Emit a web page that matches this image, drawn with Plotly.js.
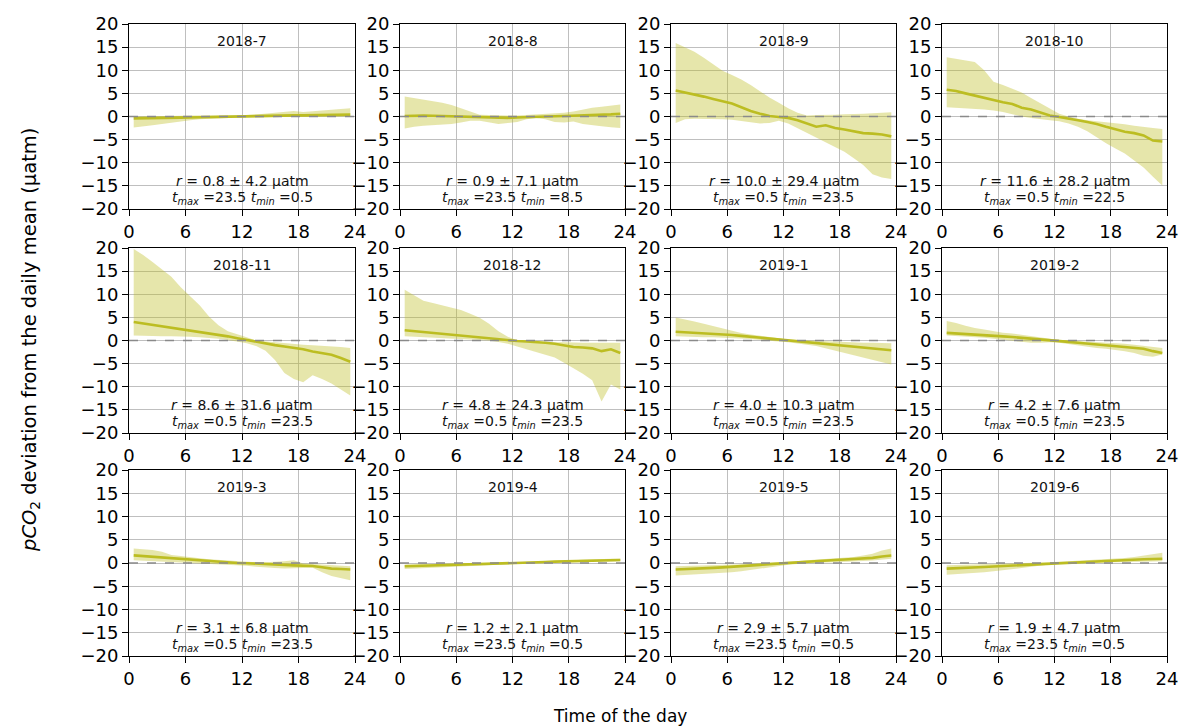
<!DOCTYPE html>
<html>
<head>
<meta charset="utf-8">
<script src="https://cdn.plot.ly/plotly-3.0.1.min.js"></script>
<style>html,body{margin:0;padding:0;background:#fff;}#chart{width:1181px;height:728px;}</style>
</head>
<body>
<div id="chart"></div>
<script>
// ---------- data ----------
const hours = [0.5,1.5,2.5,3.5,4.5,5.5,6.5,7.5,8.5,9.5,10.5,11.5,12.5,13.5,14.5,15.5,16.5,17.5,18.5,19.5,20.5,21.5,22.5,23.5];
const months = ["2018-7","2018-8","2018-9","2018-10","2018-11","2018-12","2019-1","2019-2","2019-3","2019-4","2019-5","2019-6"];
const rStats = ["0.8 ± 4.2","0.9 ± 7.1","10.0 ± 29.4","11.6 ± 28.2","8.6 ± 31.6","4.8 ± 24.3","4.0 ± 10.3","4.2 ± 7.6","3.1 ± 6.8","1.2 ± 2.1","2.9 ± 5.7","1.9 ± 4.7"];
const tMax = ["23.5","23.5","0.5","0.5","0.5","0.5","0.5","0.5","0.5","23.5","23.5","23.5"];
const tMin = ["0.5","8.5","23.5","22.5","23.5","23.5","23.5","23.5","23.5","0.5","0.5","0.5"];

const mean_2018_7 = [-0.4,-0.4,-0.35,-0.3,-0.3,-0.25,-0.2,-0.15,-0.1,-0.1,-0.05,0,0,0.05,0.1,0.15,0.2,0.25,0.25,0.3,0.3,0.35,0.35,0.4];
const hi_2018_7   = [0.0,0.0,0.05,0.1,0.1,0.15,0.2,0.2,0.2,0.25,0.3,0.3,0.35,0.45,0.6,0.8,1.0,1.2,1.0,1.1,1.3,1.45,1.6,1.8];
const lo_2018_7   = [-2.4,-2.2,-1.9,-1.6,-1.3,-1.0,-0.8,-0.6,-0.45,-0.35,-0.3,-0.25,-0.2,-0.15,-0.1,-0.05,-0.05,0.0,-0.05,0.0,0.0,0.0,0.0,0.0];

const mean_2018_8 = [0.1,0.2,0.2,0.15,0.1,0.05,0.0,-0.1,-0.2,-0.3,-0.3,-0.3,-0.2,-0.1,0.0,0.0,0.05,0.1,0.15,0.2,0.25,0.3,0.45,0.6];
const hi_2018_8   = [4.3,4.0,3.7,3.4,3.0,2.5,1.8,1.0,0.4,0.3,0.2,0.2,0.2,0.3,0.4,0.5,0.6,0.8,1.1,1.5,1.9,2.1,2.3,2.6];
const lo_2018_8   = [-2.6,-2.2,-2.0,-1.9,-1.8,-1.6,-1.3,-0.9,-0.9,-1.3,-1.6,-1.4,-1.2,-0.6,-0.3,-0.6,-1.2,-1.3,-1.1,-1.6,-1.9,-2.1,-2.3,-2.5];

const mean_2018_9 = [5.6,5.2,4.7,4.3,3.8,3.3,2.8,2.0,1.2,0.6,0.1,-0.1,-0.3,-0.8,-1.5,-2.2,-1.9,-2.5,-2.8,-3.2,-3.6,-3.7,-3.9,-4.3];
const hi_2018_9   = [15.9,15.0,14.0,12.7,11.3,9.9,9.0,8.0,6.8,5.4,4.1,3.0,1.8,0.8,0.2,0.3,0.3,0.4,0.5,0.5,0.6,0.7,0.8,0.9];
const lo_2018_9   = [-1.4,-0.6,-0.5,-0.5,-0.5,-0.6,-0.7,-1.0,-1.3,-1.5,-1.4,-0.9,-1.5,-2.5,-3.5,-4.5,-5.5,-6.5,-7.6,-9.0,-10.5,-12.5,-13.2,-13.5];

const mean_2018_10 = [5.8,5.5,5.0,4.5,4.0,3.6,3.1,2.7,1.9,1.5,0.9,0.2,-0.1,-0.4,-0.8,-1.2,-1.6,-2.2,-2.7,-3.3,-3.6,-4.1,-5.2,-5.4];
const hi_2018_10   = [12.8,12.5,12.2,11.8,10.0,7.5,6.8,6.0,5.2,4.0,2.9,1.8,0.6,0.0,-0.5,-0.8,-1.0,-1.2,-1.4,-1.7,-2.0,-2.3,-2.5,-2.7];
const lo_2018_10   = [2.0,1.9,1.8,1.6,1.5,1.3,1.0,0.5,0.0,-0.3,-0.6,-0.8,-1.0,-1.5,-2.2,-3.2,-4.5,-5.8,-6.9,-8.0,-9.5,-11.0,-13.0,-14.9];

const mean_2018_11 = [4.0,3.7,3.4,3.1,2.7,2.4,2.2,1.9,1.5,1.2,0.9,0.5,0.1,-0.3,-0.7,-1.0,-1.3,-1.6,-1.9,-2.4,-2.8,-3.1,-3.8,-4.6];
const hi_2018_11   = [19.8,18.5,17.0,15.5,13.8,11.5,9.6,7.6,5.2,3.3,2.0,1.4,0.7,0.0,-0.2,-0.4,-0.6,-0.8,-0.9,-1.0,-1.1,-1.2,-1.4,-1.6];
const lo_2018_11   = [1.1,1.0,1.0,0.9,0.9,0.9,0.8,0.7,0.6,0.4,0.1,-0.2,-0.6,-1.2,-2.2,-4.2,-7.0,-8.3,-9.0,-7.5,-8.3,-9.3,-10.6,-11.9];

const mean_2018_12 = [2.2,2.0,1.8,1.7,1.5,1.3,1.1,0.9,0.7,0.5,0.3,0.1,-0.1,-0.2,-0.3,-0.5,-0.7,-1.0,-1.4,-1.5,-1.7,-2.3,-1.9,-2.7];
const hi_2018_12   = [11.0,9.8,8.6,8.1,7.6,7.1,6.6,5.8,4.9,3.6,2.0,0.8,0.0,-0.2,-0.3,-0.3,-0.4,-0.4,-0.5,-0.5,-0.5,-0.5,-0.5,-0.5];
const lo_2018_12   = [0.9,0.8,0.7,0.6,0.6,0.5,0.4,0.3,0.2,0.0,-0.3,-0.7,-1.3,-1.9,-2.5,-3.1,-3.7,-4.8,-6.0,-7.2,-8.6,-13.2,-9.5,-10.6];

const mean_2019_1 = [1.9,1.8,1.7,1.6,1.5,1.4,1.2,1.0,0.8,0.6,0.4,0.2,0.0,-0.2,-0.4,-0.6,-0.8,-1.0,-1.2,-1.3,-1.5,-1.7,-1.9,-2.1];
const hi_2019_1   = [5.0,4.6,4.1,3.6,3.1,2.6,2.0,1.6,1.3,1.0,0.8,0.5,0.2,0.1,0.0,-0.1,-0.2,-0.3,-0.4,-0.4,-0.5,-0.5,-0.6,-0.6];
const lo_2019_1   = [0.9,0.8,0.8,0.7,0.7,0.6,0.6,0.4,0.3,0.1,0.0,-0.2,-0.4,-0.6,-0.9,-1.2,-1.7,-2.2,-2.7,-3.2,-3.6,-4.1,-4.6,-5.2];

const mean_2019_2 = [1.65,1.55,1.45,1.35,1.2,1.05,0.9,0.75,0.6,0.45,0.3,0.1,-0.1,-0.3,-0.5,-0.7,-0.9,-1.1,-1.2,-1.35,-1.55,-1.8,-2.3,-2.7];
const hi_2019_2   = [4.2,3.8,3.2,2.7,2.4,2.0,1.7,1.5,1.2,0.9,0.6,0.3,0.1,0.0,-0.1,-0.2,-0.3,-0.4,-0.5,-0.7,-0.9,-1.1,-1.4,-1.6];
const lo_2019_2   = [1.1,1.0,0.9,0.8,0.6,0.4,0.2,0.0,-0.3,-0.5,-0.5,-0.4,-0.5,-0.8,-1.1,-1.4,-1.6,-1.8,-2.0,-2.3,-2.7,-3.3,-3.5,-3.0];

const mean_2019_3 = [1.65,1.5,1.35,1.2,1.0,0.8,0.6,0.45,0.3,0.2,0.1,0.0,-0.05,-0.1,-0.2,-0.3,-0.4,-0.5,-0.55,-0.65,-0.9,-1.2,-1.3,-1.4];
const hi_2019_3   = [3.1,3.0,2.8,2.4,1.7,1.5,1.2,1.0,0.8,0.65,0.5,0.3,0.2,0.15,0.15,0.2,0.4,0.6,-0.1,-0.2,-0.3,-0.5,-0.6,-0.7];
const lo_2019_3   = [0.6,0.5,0.4,0.4,0.3,0.2,0.1,0.0,-0.2,-0.3,-0.4,-0.5,-0.6,-0.8,-1.0,-1.1,-1.2,-1.2,-1.1,-1.0,-2.0,-2.8,-3.3,-3.7];

const mean_2019_4 = [-0.7,-0.65,-0.6,-0.55,-0.5,-0.45,-0.4,-0.35,-0.3,-0.2,-0.1,0.0,0.05,0.1,0.15,0.2,0.3,0.35,0.4,0.45,0.5,0.55,0.6,0.65];
const hi_2019_4   = [-0.3,-0.3,-0.25,-0.2,-0.2,-0.15,-0.1,-0.1,-0.05,0.0,0.05,0.1,0.15,0.2,0.25,0.3,0.4,0.5,0.6,0.7,0.8,0.85,0.9,0.9];
const lo_2019_4   = [-1.3,-1.2,-1.1,-1.0,-0.9,-0.8,-0.7,-0.6,-0.5,-0.4,-0.3,-0.15,-0.05,0.0,0.05,0.1,0.15,0.2,0.25,0.3,0.3,0.35,0.4,0.4];

const mean_2019_5 = [-1.4,-1.35,-1.25,-1.15,-1.05,-0.95,-0.85,-0.7,-0.55,-0.4,-0.25,-0.1,0.05,0.15,0.3,0.45,0.55,0.65,0.75,0.85,0.95,1.1,1.4,1.6];
const hi_2019_5   = [-0.7,-0.65,-0.6,-0.55,-0.5,-0.5,-0.45,-0.35,-0.2,-0.1,0.0,0.1,0.2,0.4,0.6,0.75,0.9,1.0,1.1,1.3,1.6,2.0,2.7,3.1];
const lo_2019_5   = [-2.7,-2.6,-2.5,-2.4,-2.3,-2.2,-2.0,-1.8,-1.5,-1.2,-0.9,-0.6,-0.35,-0.2,-0.05,0.0,0.1,0.15,0.2,0.3,0.45,0.55,0.7,0.9];

const mean_2019_6 = [-1.2,-1.15,-1.05,-0.95,-0.85,-0.75,-0.65,-0.55,-0.45,-0.35,-0.2,-0.1,0.05,0.15,0.25,0.35,0.45,0.5,0.55,0.6,0.7,0.8,0.85,0.9];
const hi_2019_6   = [-0.5,-0.45,-0.45,-0.4,-0.35,-0.3,-0.25,-0.2,-0.1,0.0,0.1,0.15,0.25,0.35,0.5,0.6,0.75,0.85,0.95,1.1,1.3,1.6,1.9,2.2];
const lo_2019_6   = [-2.5,-2.4,-2.3,-2.2,-2.0,-1.8,-1.6,-1.3,-1.1,-0.8,-0.5,-0.3,-0.15,-0.05,0.0,0.05,0.1,0.1,0.15,0.2,0.25,0.3,0.35,0.4];

const means = [mean_2018_7,mean_2018_8,mean_2018_9,mean_2018_10,mean_2018_11,mean_2018_12,mean_2019_1,mean_2019_2,mean_2019_3,mean_2019_4,mean_2019_5,mean_2019_6];
const his = [hi_2018_7,hi_2018_8,hi_2018_9,hi_2018_10,hi_2018_11,hi_2018_12,hi_2019_1,hi_2019_2,hi_2019_3,hi_2019_4,hi_2019_5,hi_2019_6];
const los = [lo_2018_7,lo_2018_8,lo_2018_9,lo_2018_10,lo_2018_11,lo_2018_12,lo_2019_1,lo_2019_2,lo_2019_3,lo_2019_4,lo_2019_5,lo_2019_6];

// ---------- layout geometry (pixels) ----------
const W = 1181, H = 728;
const colPx = [[129,355],[400,625],[671,896],[942,1167]];
const rowPx = [[24,209],[248,433],[470,656]];
const FONT = "DejaVu Sans, sans-serif";
const LINE = "#bcbd22";
const FILL = "rgba(188,189,34,0.38)";

const data = [];
const layout = {
  width: W, height: H,
  margin: {l:0, r:0, t:0, b:0},
  paper_bgcolor: "#fff", plot_bgcolor: "#fff",
  showlegend: false,
  font: {family: FONT, color: "#000"},
  annotations: [], shapes: []
};

months.forEach((m, i) => {
  const r = Math.floor(i / 4), c = i % 4;
  const sfx = i === 0 ? "" : String(i + 1);
  const xa = "x" + sfx, ya = "y" + sfx;
  const xd = [colPx[c][0] / W, colPx[c][1] / W];
  const yd = [1 - rowPx[r][1] / H, 1 - rowPx[r][0] / H];

  data.push({x: hours, y: los[i], xaxis: xa, yaxis: ya, type: "scatter", mode: "lines",
             line: {width: 0, color: FILL}, hoverinfo: "skip"});
  data.push({x: hours, y: his[i], xaxis: xa, yaxis: ya, type: "scatter", mode: "lines",
             fill: "tonexty", fillcolor: FILL, line: {width: 0, color: FILL}, hoverinfo: "skip"});
  data.push({x: hours, y: means[i], xaxis: xa, yaxis: ya, type: "scatter", mode: "lines",
             line: {width: 2.6, color: LINE}});

  const axCommon = {
    showline: true, mirror: true, linecolor: "#000", linewidth: 1,
    showgrid: true, gridcolor: "#b8b8b8", gridwidth: 0.9,
    zeroline: false, ticks: "outside", ticklen: 6, tickwidth: 1, tickcolor: "#000",
    tickfont: {family: FONT, size: 18, color: "#000"}, fixedrange: true
  };
  layout["xaxis" + sfx] = Object.assign({}, axCommon, {
    domain: xd, anchor: ya, range: [0, 24], tickmode: "array",
    tickvals: [0, 6, 12, 18, 24], ticktext: ["0", "6", "12", "18", "24"]
  });
  layout["yaxis" + sfx] = Object.assign({}, axCommon, {
    domain: yd, anchor: xa, range: [-20, 20], tickmode: "array",
    tickvals: [-20, -15, -10, -5, 0, 5, 10, 15, 20],
    ticktext: ["\u221220", "\u221215", "\u221210", "\u22125", "0", "5", "10", "15", "20"]
  });

  layout.shapes.push({type: "line", xref: xa + " domain", yref: ya, x0: 0, x1: 1, y0: 0, y1: 0,
                      line: {color: "#8a8a8a", width: 1.5, dash: "dash"}, layer: "above"});

  const xc = (colPx[c][0] + colPx[c][1]) / 2 / W;
  layout.annotations.push({xref: "paper", yref: "paper", x: xc, y: 1 - (rowPx[r][0] + 17) / H,
    text: m, showarrow: false, xanchor: "center", yanchor: "middle",
    font: {family: FONT, size: 14, color: "#111"}});
  layout.annotations.push({xref: "paper", yref: "paper", x: xc, y: 1 - (rowPx[r][1] - 28) / H,
    text: "<i>r</i> = " + rStats[i] + " µatm", showarrow: false, xanchor: "center", yanchor: "middle",
    font: {family: FONT, size: 14, color: "#111"}});
  layout.annotations.push({xref: "paper", yref: "paper", x: xc, y: 1 - (rowPx[r][1] - 11) / H,
    text: "<i>t<sub>max</sub></i> =" + tMax[i] + " <i>t<sub>min</sub></i> =" + tMin[i],
    showarrow: false, xanchor: "center", yanchor: "middle",
    font: {family: FONT, size: 14, color: "#111"}});
});

layout.annotations.push({xref: "paper", yref: "paper", x: 30 / W, y: 1 - 340 / H,
  text: "<i>pCO</i><sub>2</sub> deviation from the daily mean (µatm)", textangle: -90,
  showarrow: false, xanchor: "center", yanchor: "middle", font: {family: FONT, size: 19.5, color: "#000"}});
layout.annotations.push({xref: "paper", yref: "paper", x: 620 / W, y: 1 - 716 / H,
  text: "Time of the day", showarrow: false, xanchor: "center", yanchor: "middle",
  font: {family: FONT, size: 17, color: "#000"}});

Plotly.newPlot("chart", data, layout, {staticPlot: true, displayModeBar: false});
</script>
</body>
</html>
